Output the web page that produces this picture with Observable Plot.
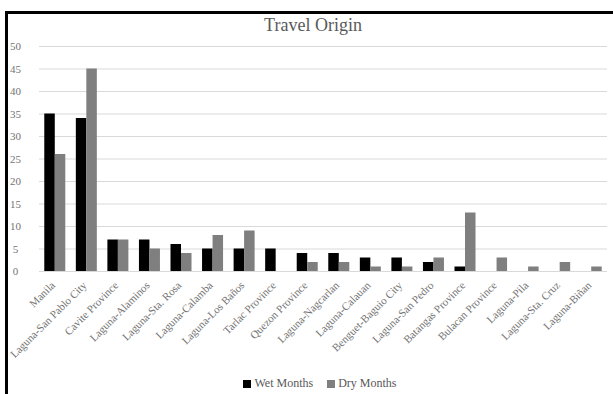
<!DOCTYPE html>
<html>
<head>
<meta charset="utf-8">
<script src="https://cdn.jsdelivr.net/npm/d3@7"></script>
<script src="https://cdn.jsdelivr.net/npm/@observablehq/plot@0.6"></script>
<style>
  html, body { margin: 0; padding: 0; background: #fff; }
  #chart { position: relative; width: 613px; height: 394px; overflow: hidden; font-family: "Liberation Serif", "Times New Roman", serif; }
  #frame { position: absolute; left: 5px; top: 11px; right: -10px; bottom: -10px; border-left: 3px solid #000; border-top: 3px solid #000; }
  #title { position: absolute; left: 0; width: 626px; top: 15px; text-align: center; font-size: 18px; color: #595959; }
  #plot { position: absolute; left: 0; top: 0; }
  #legend { position: absolute; left: 0; width: 640px; top: 376px; display: flex; justify-content: center; gap: 14px; font-size: 12px; color: #595959; font-family: "Liberation Serif", "Times New Roman", serif; }
  #legend span.item { display: inline-flex; align-items: center; gap: 3px; }
  #legend span.sw { display: inline-block; width: 8px; height: 8px; }
</style>
</head>
<body>
<div id="chart">
  <div id="frame"></div>
  <div id="plot"></div>
  <div id="title">Travel Origin</div>
  <div id="legend"></div>
</div>
<script>
// Places of origin, in display order
const origins = [
  "Manila", "Laguna-San Pablo City", "Cavite Province", "Laguna-Alaminos",
  "Laguna-Sta. Rosa", "Laguna-Calamba", "Laguna-Los Baños", "Tarlac Province",
  "Quezon Province", "Laguna-Nagcarlan", "Laguna-Calauan", "Benguet-Baguio City",
  "Laguna-San Pedro", "Batangas Province", "Bulacan Province", "Laguna-Pila",
  "Laguna-Sta. Cruz", "Laguna-Biñan"
];
const wetMonths = [35, 34, 7, 7, 6, 5, 5, 5, 4, 4, 3, 3, 2, 1, 0, 0, 0, 0];
const dryMonths = [26, 45, 7, 5, 4, 8, 9, 0, 2, 2, 1, 1, 3, 13, 3, 1, 2, 1];
const seasons = ["Wet Months", "Dry Months"];
const seasonColors = ["#000000", "#7f7f7f"];
const yTicks = [0, 5, 10, 15, 20, 25, 30, 35, 40, 45, 50];

const wetRows = origins.map((o, i) => ({origin: o, count: wetMonths[i]}));
const dryRows = origins.map((o, i) => ({origin: o, count: dryMonths[i]}));

// each origin gets a 21px band, split in two for the wet and dry bars
const step = (613 - 39 - 6) / origins.length;
const pad = 1 - 21 / step;
const half = 10.5;

const chart = Plot.plot({
  width: 613,
  height: 394,
  marginLeft: 39,
  marginRight: 6,
  marginTop: 46,
  marginBottom: 123,
  style: "font-family: 'Liberation Serif', 'Times New Roman', serif; background: transparent;",
  x: {domain: origins, paddingInner: pad, paddingOuter: pad / 2, round: false, label: null},
  y: {domain: [0, 50], label: null},
  marks: [
    Plot.gridY(yTicks, {stroke: "#d9d9d9", strokeOpacity: 1, strokeWidth: 1}),
    Plot.barY(wetRows, {x: "origin", y: "count", fill: seasonColors[0], insetRight: half}),
    Plot.barY(dryRows, {x: "origin", y: "count", fill: seasonColors[1], insetLeft: half}),
    Plot.axisY(yTicks, {tickSize: 0, tickPadding: 24, textAnchor: "middle", fill: "#737373", fontSize: 11, label: null}),
    Plot.axisX({tickRotate: -45, tickSize: 0, tickPadding: 12, dx: -2, fill: "#737373", fontSize: 11, label: null})
  ]
});
document.getElementById("plot").appendChild(chart);

const legend = document.getElementById("legend");
seasons.forEach((s, i) => {
  const item = document.createElement("span");
  item.className = "item";
  const sw = document.createElement("span");
  sw.className = "sw";
  sw.style.background = seasonColors[i];
  item.appendChild(sw);
  item.appendChild(document.createTextNode(s));
  legend.appendChild(item);
});
</script>
</body>
</html>
